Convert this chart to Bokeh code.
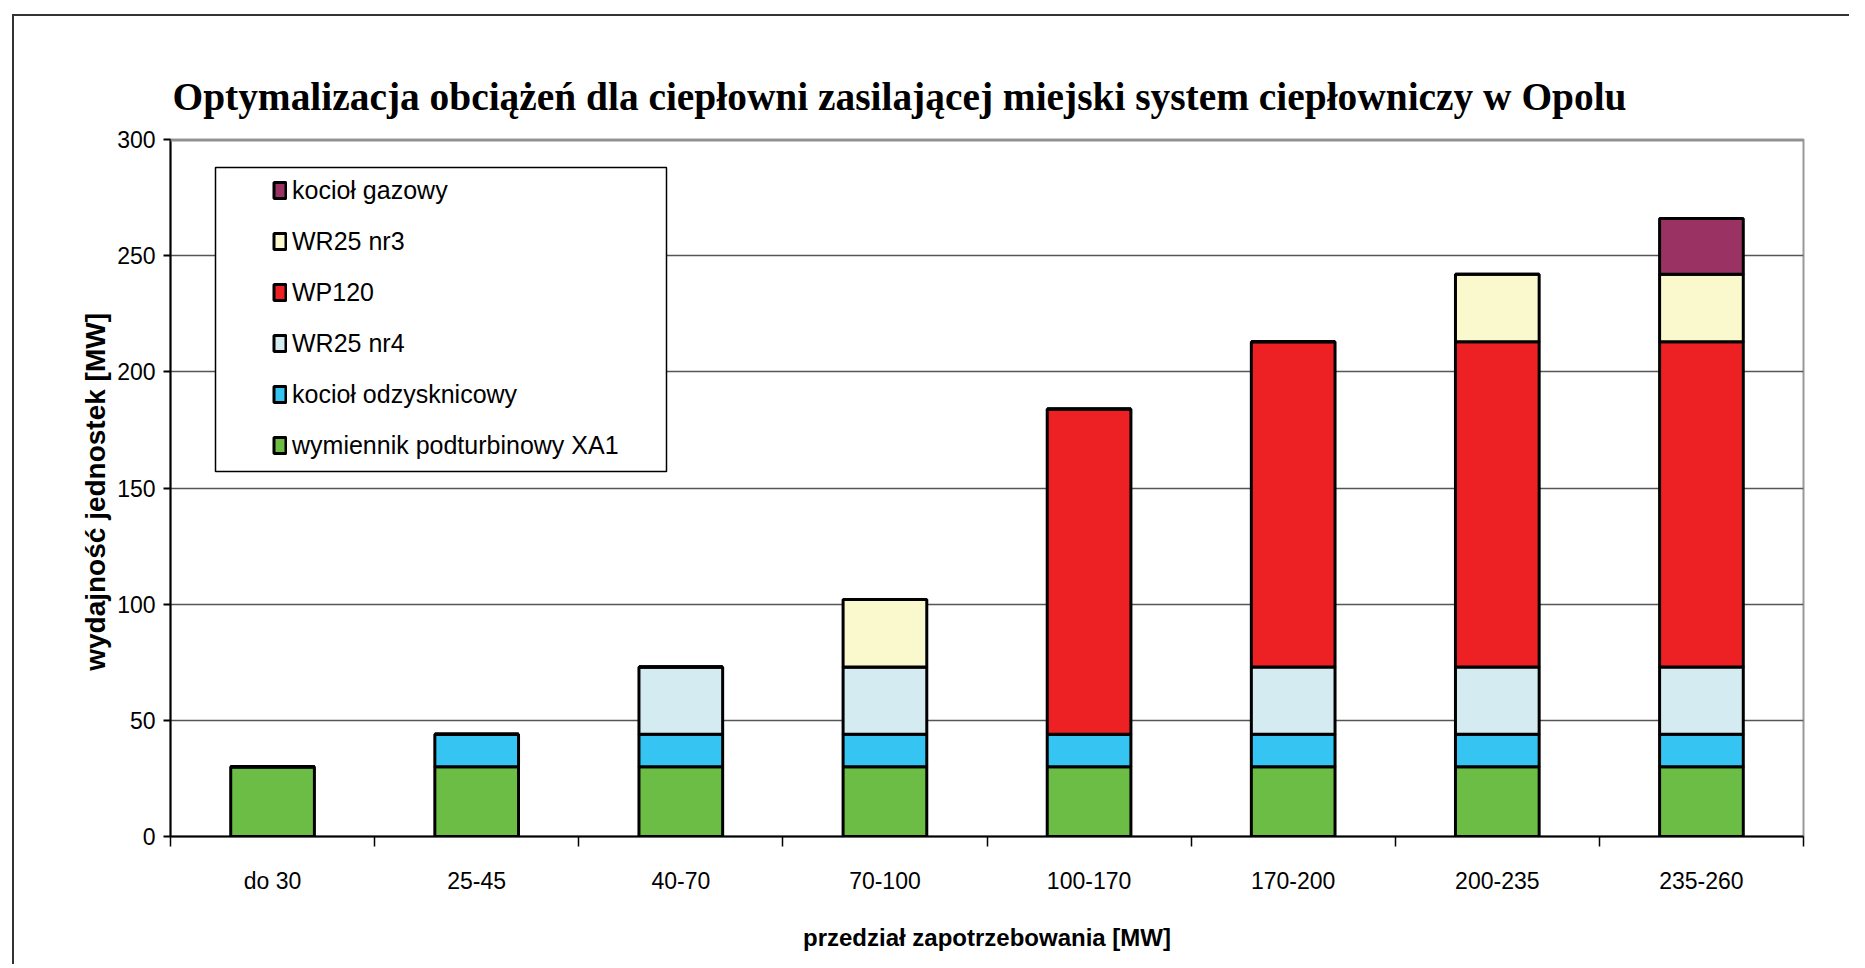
from bokeh.plotting import figure
from bokeh.models import Range1d, FixedTicker, Legend, LegendItem, BoxAnnotation, Span
from bokeh.embed import file_html
from bokeh.resources import INLINE

# ---- data ----
categories = ["do 30", "25-45", "40-70", "70-100", "100-170", "170-200", "200-235", "235-260"]
wymiennik_xa1 = [30, 30, 30, 30, 30, 30, 30, 30]
kociol_odzysknicowy = [0, 14, 14, 14, 14, 14, 14, 14]
wr25_nr4 = [0, 0, 29, 29, 0, 29, 29, 29]
wp120 = [0, 0, 0, 0, 140, 140, 140, 140]
wr25_nr3 = [0, 0, 0, 29, 0, 0, 29, 29]
kociol_gazowy = [0, 0, 0, 0, 0, 0, 0, 24]

series_keys = ["xa1", "odzysk", "nr4", "wp120", "nr3", "gaz"]
series_labels = ["wymiennik podturbinowy XA1", "kocioł odzysknicowy", "WR25 nr4",
                 "WP120", "WR25 nr3", "kocioł gazowy"]
series_colors = ["#6CBD45", "#36C5F2", "#D4EBF1", "#ED2024", "#FAF8CD", "#9B3264"]
y_ticks = [0, 50, 100, 150, 200, 250, 300]

title_text = "Optymalizacja obciążeń dla ciepłowni zasilającej miejski system ciepłowniczy w Opolu"
x_title = "przedział zapotrzebowania [MW]"
y_title = "wydajność jednostek  [MW]"

SANS = "Liberation Sans"
SERIF = "Liberation Serif"

x_pos = [i + 0.5 for i in range(len(categories))]
boundaries = [float(i) for i in range(len(categories) + 1)]

data = dict(x=x_pos, xa1=wymiennik_xa1, odzysk=kociol_odzysknicowy, nr4=wr25_nr4,
            wp120=wp120, nr3=wr25_nr3, gaz=kociol_gazowy)

p = figure(frame_width=1633, frame_height=697, output_backend="svg", toolbar_location=None,
           x_range=Range1d(0, len(categories)), y_range=Range1d(0, 300),
           min_border_left=170, min_border_right=46, min_border_top=139, min_border_bottom=128,
           background_fill_color="white", border_fill_alpha=0,
           styles={"box-shadow": "inset 12px 14px 0 0 white, inset 14px 16px 0 0 #333333",
                   "background-color": "white"})

# title
p.title.text = title_text
p.title.text_font = SERIF
p.title.text_font_size = "39.4px"
p.title.text_font_style = "bold"
p.title.text_color = "black"
p.title.align = "left"
p.title.offset = 2
p.title.standoff = 41

renderers = p.vbar_stack(series_keys, x="x", width=0.41, source=data,
                         color=series_colors, line_color="black", line_width=3)

# frame
p.outline_line_color = "#999999"
p.outline_line_width = 2
top_line = Span(location=300, dimension="width", line_color="#8f8f8f", line_width=4)
p.add_layout(top_line)

yax = p.yaxis[0]
yax.ticker = FixedTicker(ticks=y_ticks)
yax.axis_line_color = "black"
yax.axis_line_width = 2
yax.major_tick_line_color = "black"
yax.major_tick_line_width = 2
yax.major_tick_out = 7
yax.major_tick_in = 0
yax.minor_tick_line_color = None
yax.major_label_text_font = SANS
yax.major_label_text_font_size = "23px"
yax.major_label_text_color = "black"
yax.major_label_standoff = 8
yax.axis_label = y_title
yax.axis_label_text_font = SANS
yax.axis_label_text_font_size = "28px"
yax.axis_label_text_font_style = "bold"
yax.axis_label_text_color = "black"
yax.axis_label_standoff = 3

xax = p.xaxis[0]
xax.ticker = FixedTicker(ticks=x_pos, minor_ticks=boundaries)
xax.major_label_overrides = {x: c for x, c in zip(x_pos, categories)}
xax.axis_line_color = "black"
xax.axis_line_width = 2
xax.major_tick_line_color = None
xax.major_tick_out = 0
xax.major_tick_in = 0
xax.minor_tick_line_color = "black"
xax.minor_tick_line_width = 1.5
xax.minor_tick_out = 10
xax.minor_tick_in = 0
xax.major_label_text_font = SANS
xax.major_label_text_font_size = "23px"
xax.major_label_text_color = "black"
xax.major_label_standoff = 21
xax.axis_label = x_title
xax.axis_label_text_font = SANS
xax.axis_label_text_font_size = "24px"
xax.axis_label_text_font_style = "bold"
xax.axis_label_text_color = "black"
xax.axis_label_standoff = 27

p.xgrid.visible = False
p.ygrid.ticker = FixedTicker(ticks=y_ticks[1:-1])
p.ygrid.grid_line_color = "#555555"
p.ygrid.grid_line_width = 1.5

# legend box and legend
legend_box = BoxAnnotation(left=215, right=666, top=167, bottom=471,
                           left_units="canvas", right_units="canvas", top_units="canvas", bottom_units="canvas",
                           fill_color="white", fill_alpha=1, line_color="black", line_alpha=1, line_width=1.5)
p.add_layout(legend_box)

items = [LegendItem(label=lab, renderers=[r]) for lab, r in zip(series_labels, renderers)][::-1]
legend = Legend(items=items, location=(102, 376), orientation="vertical",
                padding=0, margin=0, spacing=21, glyph_width=15, glyph_height=20,
                label_height=30, label_standoff=5,
                label_text_font=SANS, label_text_font_size="25px", label_text_color="black",
                background_fill_alpha=0, border_line_color=None)
p.add_layout(legend)

open("out.html", "w").write(file_html(p, INLINE))
